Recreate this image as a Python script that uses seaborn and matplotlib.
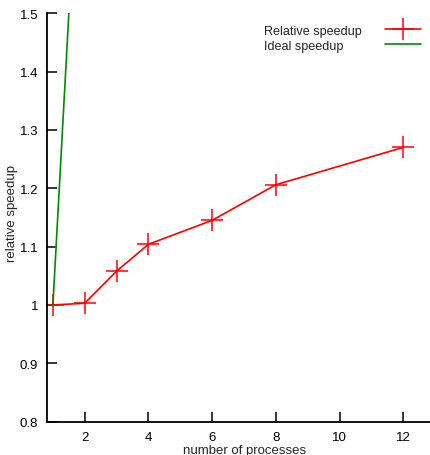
import matplotlib
matplotlib.use("Agg")
import matplotlib.pyplot as plt
import matplotlib.ticker as mticker
import seaborn as sns
import pandas as pd

processes = [1, 2, 3, 4, 6, 8, 12]
relative_speedup = [1.0, 1.003, 1.058, 1.104, 1.145, 1.206, 1.270]
ideal_x = [1, 1.5]
ideal_y = [1, 1.5]

sns.set_style("ticks")
plt.rcParams['font.family'] = ['Liberation Sans', 'DejaVu Sans']

df = pd.DataFrame({'processes': processes, 'speedup': relative_speedup})
ideal = pd.DataFrame({'processes': ideal_x, 'speedup': ideal_y})

fig = plt.figure(figsize=(4.31, 4.56), dpi=100)
ax = fig.add_axes([0.108, 0.073, 0.892, 0.896])

sns.lineplot(data=df, x='processes', y='speedup', ax=ax, color='#ff0000',
             marker='+', markersize=16, markeredgewidth=1.1,
             markeredgecolor='#ff0000', linewidth=1.2,
             label='Relative speedup')
sns.lineplot(data=ideal, x='processes', y='speedup', ax=ax, color='#008c00',
             linewidth=1.2, label='Ideal speedup')

ax.set_xlim(0.8, 12.87)
ax.set_ylim(0.8, 1.5)
ax.set_xticks([2, 4, 6, 8, 10, 12])
ax.set_yticks([0.8, 0.9, 1.0, 1.1, 1.2, 1.3, 1.4, 1.5])
ax.yaxis.set_major_formatter(mticker.FormatStrFormatter('%g'))
ax.tick_params(direction='in', length=7, width=1.1, labelsize=9.5, colors='black')
ax.tick_params(axis='x', pad=7)
ax.tick_params(axis='y', pad=6)

for side in ['top', 'right']:
    ax.spines[side].set_visible(False)
for side in ['left', 'bottom']:
    ax.spines[side].set_linewidth(1.3)
    ax.spines[side].set_color('black')

ax.set_xlabel('number of processes', fontsize=9.5)
ax.set_ylabel('relative speedup', fontsize=9.5)
ax.xaxis.set_label_coords(0.514, -0.055)
ax.yaxis.set_label_coords(-0.074, 0.513)

leg = ax.legend(loc='upper right', frameon=False, fontsize=9.1,
                markerfirst=False, handlelength=2.85, handletextpad=1.8,
                labelspacing=0.25, borderaxespad=0, borderpad=0,
                bbox_to_anchor=(0.974, 0.972))

# gnuplot-style key: labels left-aligned, samples stacked on the right
fig.canvas.draw()
renderer = fig.canvas.get_renderer()
widths = [t.get_window_extent(renderer).width for t in leg.get_texts()]
rows = leg._legend_handle_box.get_children()[0].get_children()
for row, w in zip(rows, widths):
    row.sep += (max(widths) - w) * 72 / fig.dpi

fig.savefig('out.png', dpi=100)
